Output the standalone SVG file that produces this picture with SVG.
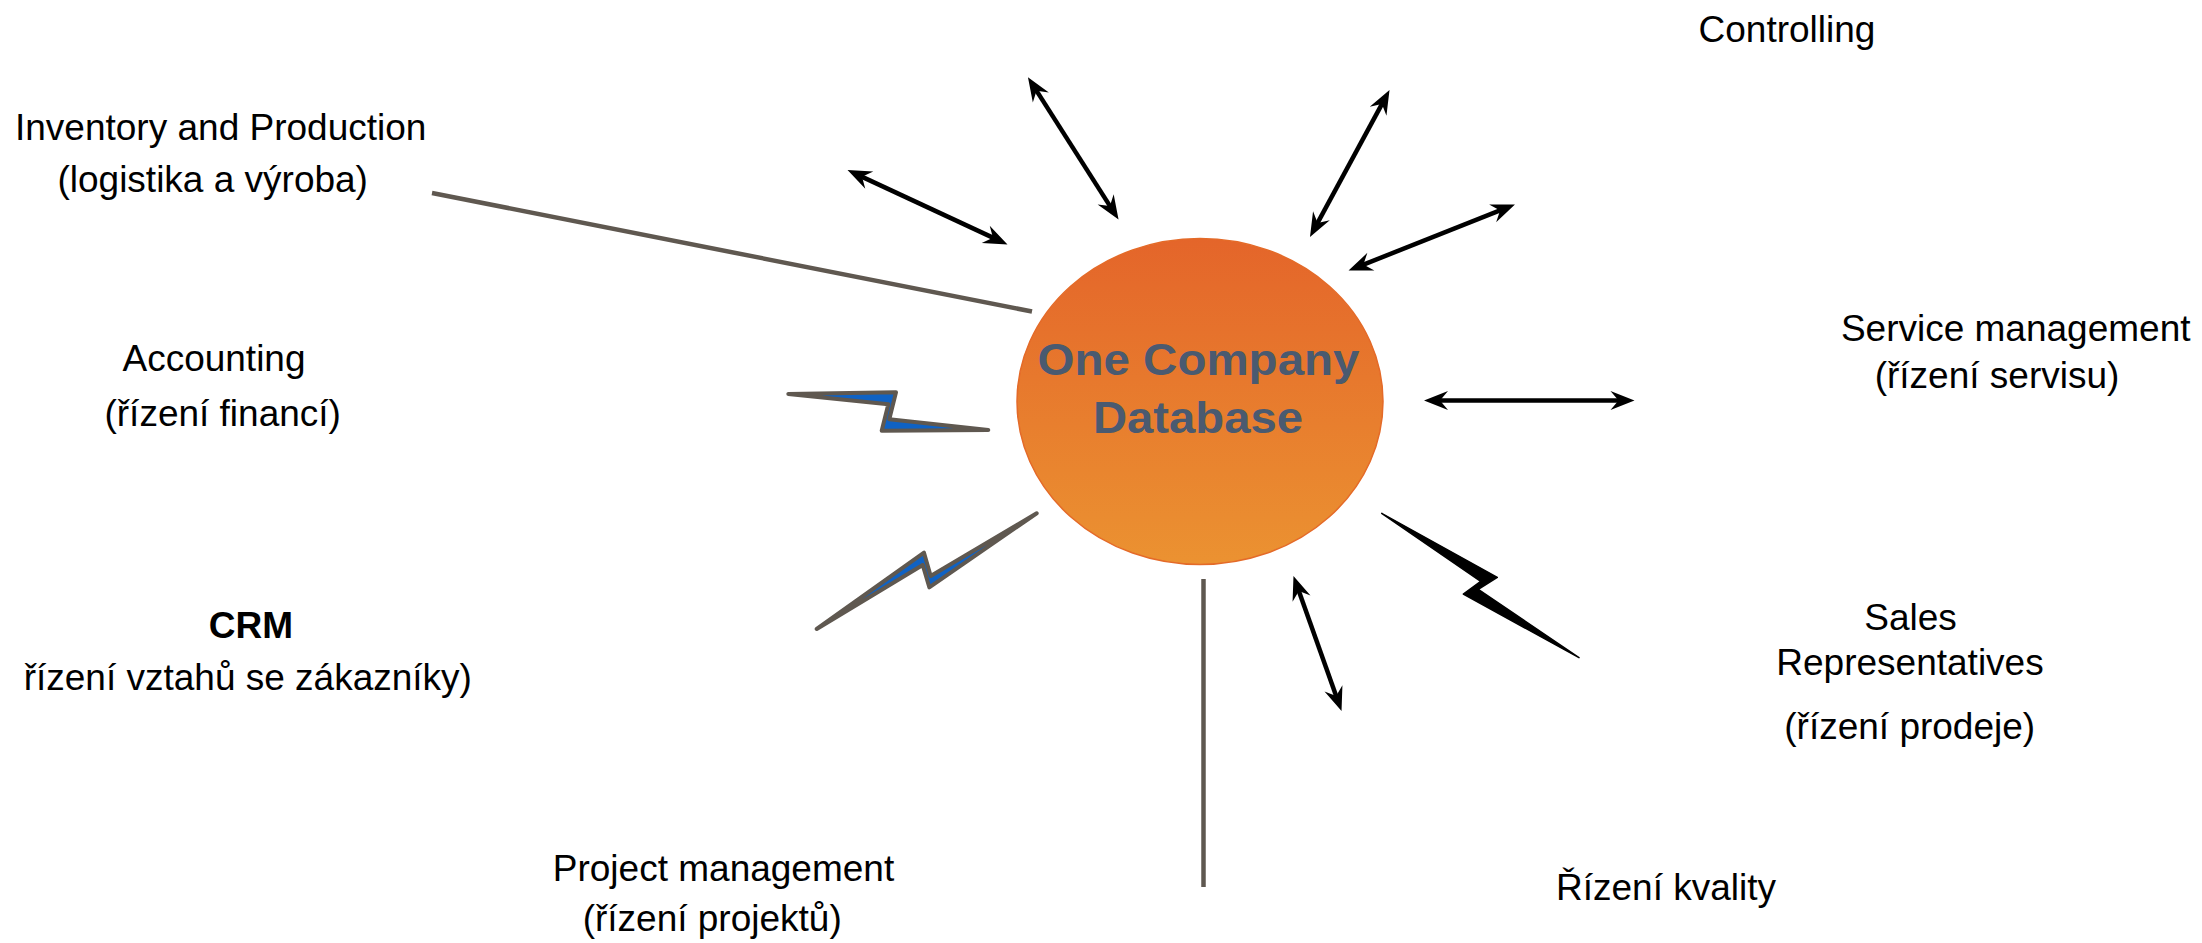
<svg xmlns="http://www.w3.org/2000/svg" width="2202" height="943" viewBox="0 0 2202 943">
<style>
.lbl{font-family:"Liberation Sans",Arial,sans-serif;font-size:37px;fill:#000;text-anchor:middle}
.b{font-weight:bold}
.ctr{font-family:"Liberation Sans",Arial,sans-serif;font-size:44px;font-weight:bold;fill:#4a5a70;text-anchor:middle}
.arrow{stroke:#000;stroke-width:4.5;fill:none;marker-start:url(#ah);marker-end:url(#ah)}
.gline{stroke:#5f5850;stroke-width:4.5;fill:none}
.bolt-blue{fill:#0f62c4;stroke:#5f5850;stroke-width:4;stroke-linejoin:round}
.bolt-black{fill:#000;stroke:#000;stroke-width:1.5;stroke-linejoin:round}
</style>
<defs>
<linearGradient id="og" x1="0" y1="0" x2="0" y2="1">
<stop offset="0" stop-color="#e4652a"/>
<stop offset="1" stop-color="#eb9231"/>
</linearGradient>
<marker id="ah" markerUnits="userSpaceOnUse" markerWidth="32" markerHeight="26" viewBox="-26 -13 32 26" refX="-12" refY="0" orient="auto-start-reverse">
<path d="M0,0 L-24,-9.5 L-16,0 L-24,9.5 Z" fill="#000"/>
</marker>
</defs>
<rect width="2202" height="943" fill="#fff"/>
<g id="connectors">
<line class="gline" x1="432" y1="193" x2="1032" y2="311.5"/>
<line class="gline" x1="1203.5" y1="579" x2="1203.5" y2="887"/>
<line class="arrow" x1="858.4" y1="175.1" x2="996.6" y2="239.4"/>
<line class="arrow" x1="1034.4" y1="87.4" x2="1112.1" y2="209.4"/>
<line class="arrow" x1="1383.8" y1="100.6" x2="1315.7" y2="226.4"/>
<line class="arrow" x1="1503.8" y1="208.9" x2="1359.7" y2="266.1"/>
<line class="arrow" x1="1436" y1="400.5" x2="1622.5" y2="400.5"/>
<line class="arrow" x1="1297.5" y1="587.3" x2="1337.5" y2="699.7"/>
<polygon class="bolt-blue" points="788.3,394 896,392.3 889.3,419.3 988.3,430 881.7,430.7 888.3,404.3"/>
<polygon class="bolt-blue" points="816.7,629 924,552.7 930.7,576 1036.7,513.3 929.3,587.3 922.7,565"/>
<polygon class="bolt-black" points="1381.7,513.3 1497.3,577.3 1478.3,589.3 1579,657.7 1463.3,594 1480.7,581.3"/>
</g>
<g id="db">
<ellipse cx="1200" cy="401.5" rx="183" ry="163" fill="url(#og)" stroke="#e46a28" stroke-width="1.5"/>
<text class="ctr" x="1198.5" y="375" textLength="322" lengthAdjust="spacingAndGlyphs">One Company</text>
<text class="ctr" x="1198" y="433" textLength="210" lengthAdjust="spacingAndGlyphs">Database</text>
</g>
<g id="controlling"><text class="lbl" x="1787" y="42">Controlling</text></g>
<g id="inventory">
<text class="lbl" x="220.7" y="140">Inventory and Production</text>
<text class="lbl" x="212.7" y="192">(logistika a výroba)</text>
</g>
<g id="accounting">
<text class="lbl" x="214" y="371">Accounting</text>
<text class="lbl" x="222.7" y="426">(řízení financí)</text>
</g>
<g id="crm">
<text class="lbl b" x="251" y="638">CRM</text>
<text class="lbl" x="247.8" y="690">řízení vztahů se zákazníky)</text>
</g>
<g id="project">
<text class="lbl" x="723.5" y="881">Project management</text>
<text class="lbl" x="712.2" y="931">(řízení projektů)</text>
</g>
<g id="quality"><text class="lbl" x="1666" y="900">Řízení kvality</text></g>
<g id="sales">
<text class="lbl" x="1910.5" y="630">Sales</text>
<text class="lbl" x="1910" y="675">Representatives</text>
<text class="lbl" x="1909.7" y="739">(řízení prodeje)</text>
</g>
<g id="service">
<text class="lbl" x="2015.7" y="341">Service management</text>
<text class="lbl" x="1997" y="388">(řízení servisu)</text>
</g>
</svg>
